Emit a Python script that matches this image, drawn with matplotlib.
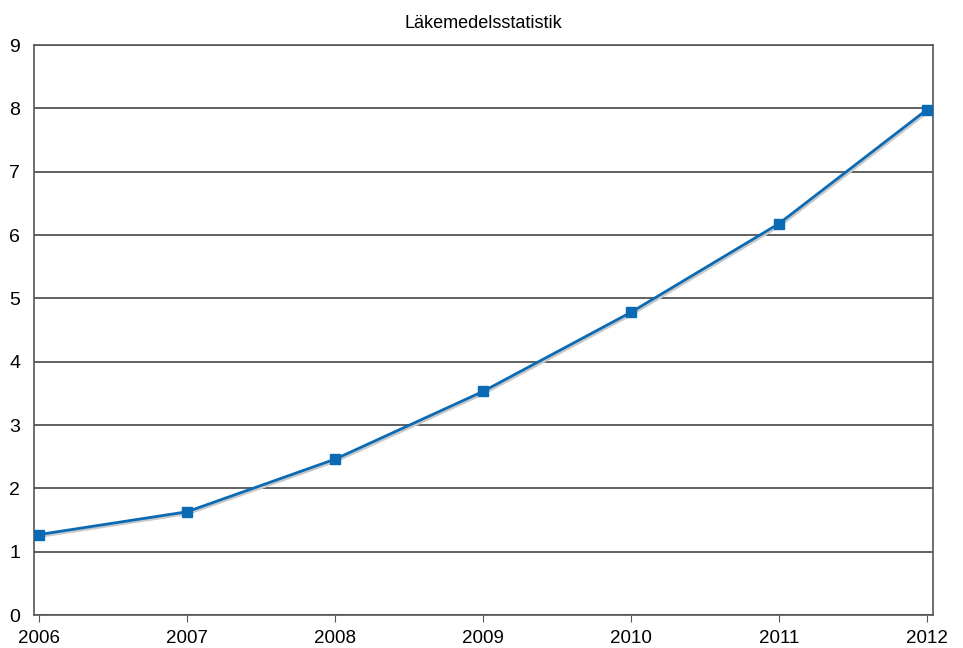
import matplotlib
matplotlib.use("Agg")
import matplotlib.pyplot as plt

plt.rcParams["font.family"] = ["Liberation Sans", "DejaVu Sans"]

years = [2006, 2007, 2008, 2009, 2010, 2011, 2012]
values = [1.27, 1.63, 2.46, 3.53, 4.78, 6.18, 7.98]
yticks = [0, 1, 2, 3, 4, 5, 6, 7, 8, 9]
title = "Läkemedelsstatistik"

fig = plt.figure(figsize=(9.63, 6.48), dpi=100)
ax = fig.add_axes([34/963, 1 - 615/648, (933-34)/963, (615-45)/648])

# shadow line
ax.plot([y + 0.01 for y in years], [v - 0.03 for v in values], color="#c8c8c8",
        lw=1.8, zorder=2)
ax.plot(years, values, color="#0a6ab4", lw=2.0, marker="s", markersize=7,
        zorder=3)

ax.set_ylim(0, 9)
ax.set_xlim(2006 - 5/148, 2012 + 6/148)
ax.set_yticks(yticks)
ax.set_xticks(years)
ax.yaxis.grid(True, color="#555555", lw=1.3)
ax.set_axisbelow(True)
for s in ["left", "right", "top", "bottom"]:
    ax.spines[s].set_color("#555555")
    ax.spines[s].set_linewidth(1.2)
ax.tick_params(axis="y", length=0, pad=10, labelsize=14)
ax.tick_params(axis="x", length=5, color="#555555", labelsize=13.5, pad=6)
ax.set_title(title, fontsize=13, pad=12)

fig.savefig("out.png", dpi=100)
